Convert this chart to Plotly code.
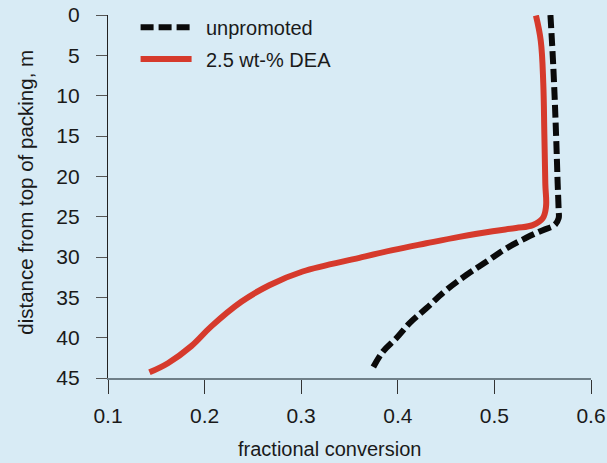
import plotly.graph_objects as go

# ---- data ----
dea_conv = [0.543, 0.548, 0.5506, 0.5517, 0.5527, 0.5534, 0.55, 0.5397, 0.5224, 0.4982,
            0.4637, 0.4295, 0.3946, 0.3602, 0.3015, 0.267, 0.238, 0.2069, 0.1862,
            0.162, 0.1429]
dea_dist = [0.06, 3.2, 8.5, 14.7, 20.9, 23.8, 25.2, 26.05, 26.4, 26.8,
            27.5, 28.3, 29.15, 30.1, 31.8, 33.5, 35.55, 38.6, 41.05,
            43.17, 44.3]

unp_conv = [0.558, 0.561, 0.5638, 0.5655, 0.5665, 0.5665, 0.5623, 0.5502, 0.533, 0.5123,
            0.4916, 0.4709, 0.4502, 0.4295, 0.4122, 0.3984, 0.3846, 0.374]
unp_dist = [0.0, 6.5, 14.7, 20.9, 24.2, 25.2, 26.05, 26.67, 27.62, 28.94,
            30.6, 32.24, 34.1, 36.36, 38.2, 40.07, 41.73, 43.79]

x_ticks = [0.1, 0.2, 0.3, 0.4, 0.5, 0.6]
x_tick_labels = ["0.1", "0.2", "0.3", "0.4", "0.5", "0.6"]
y_ticks = [0, 5, 10, 15, 20, 25, 30, 35, 40, 45]
y_tick_labels = [str(v) for v in y_ticks]

names = ["unpromoted", "2.5 wt-% DEA"]

# ---- styling ----
W, H = 607, 463
ML, MR, MT, MB = 108.4, 15.5, 14.5, 84.7
BG = "#d8ebf5"
RED = "#d63a2c"
BLACK = "#0a0a0a"
TXT = "#1a1a1a"
FONT = "Liberation Sans, Arial, sans-serif"
DASH = "13px,5px"

pw = W - ML - MR
ph = H - MT - MB


def px_x(p):
    return (p - ML) / pw


def px_y(p):
    return (H - MB - p) / ph


fig = go.Figure()
fig.add_trace(go.Scatter(x=unp_conv, y=unp_dist, mode="lines", name=names[0],
                         line=dict(color=BLACK, width=6, dash=DASH, shape="spline", smoothing=1.1)))
fig.add_trace(go.Scatter(x=dea_conv, y=dea_dist, mode="lines", name=names[1],
                         line=dict(color=RED, width=6, shape="spline", smoothing=1.1)))

# manual legend
shapes = [
    dict(type="line", xref="paper", yref="paper", x0=px_x(141), x1=px_x(192),
         y0=px_y(26.7), y1=px_y(26.7), line=dict(color=BLACK, width=6, dash=DASH)),
    dict(type="line", xref="paper", yref="paper", x0=px_x(141), x1=px_x(192),
         y0=px_y(58.7), y1=px_y(58.7), line=dict(color=RED, width=6)),
]
annotations = [
    dict(text=names[0], xref="paper", yref="paper", x=px_x(204), y=px_y(28),
         xanchor="left", yanchor="middle", showarrow=False, font=dict(size=20, color=TXT, family=FONT)),
    dict(text=names[1], xref="paper", yref="paper", x=px_x(204), y=px_y(60),
         xanchor="left", yanchor="middle", showarrow=False, font=dict(size=20, color=TXT, family=FONT)),
    dict(text="fractional conversion", xref="paper", yref="paper", x=px_x(330.4), y=px_y(449),
         xanchor="center", yanchor="middle", showarrow=False, font=dict(size=20, color=TXT, family=FONT)),
    dict(text="distance from top of packing, m", xref="paper", yref="paper", x=px_x(25.5), y=px_y(192.5),
         xanchor="center", yanchor="middle", textangle=-90, showarrow=False,
         font=dict(size=20.5, color=TXT, family=FONT)),
]

fig.update_layout(
    width=W, height=H,
    margin=dict(l=ML, r=MR, t=MT, b=MB, pad=0, autoexpand=False),
    paper_bgcolor=BG, plot_bgcolor=BG,
    showlegend=False,
    shapes=shapes, annotations=annotations,
    font=dict(family=FONT, color=TXT),
)
fig.update_xaxes(range=[0.1, 0.6], tickvals=x_ticks, ticktext=x_tick_labels, automargin=False,
                 showgrid=False, zeroline=False, showline=True, linecolor="#6f7f88", linewidth=2,
                 ticks="outside", ticklen=14, tickwidth=1.2, tickcolor="#333",
                 tickfont=dict(size=21, color=TXT, family=FONT), ticklabelstandoff=4)
fig.update_yaxes(range=[45, 0], tickvals=y_ticks, ticktext=y_tick_labels, automargin=False,
                 showgrid=False, zeroline=False, showline=True, linecolor="#222", linewidth=1.2,
                 ticks="outside", ticklen=11, tickwidth=1.2, tickcolor="#555",
                 tickfont=dict(size=21, color=TXT, family=FONT), ticklabelstandoff=12)

fig.write_html("out.html")
